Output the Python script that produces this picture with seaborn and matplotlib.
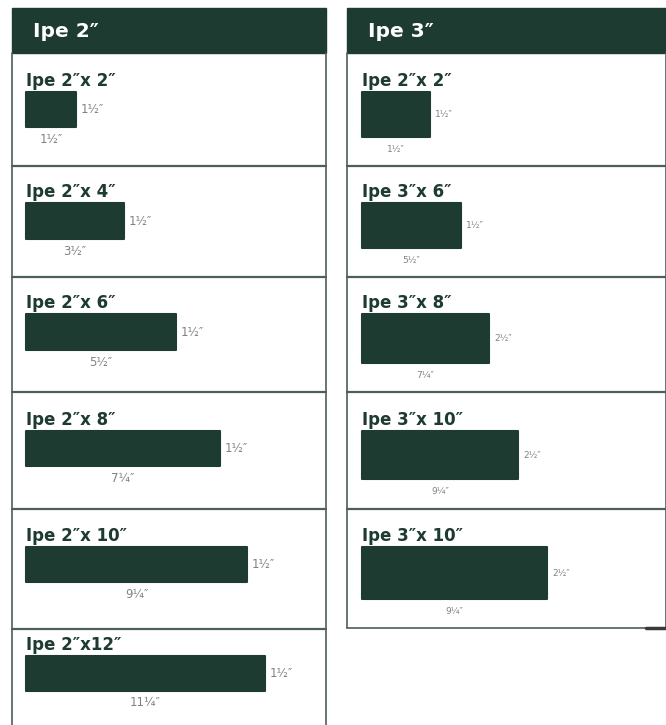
import matplotlib
matplotlib.use("Agg")
import matplotlib.pyplot as plt
import seaborn as sns

# данные: две колонки карточек с сечениями доски
left_header = "Ipe 2\u2033"
left_titles = ["Ipe 2\u2033x 2\u2033", "Ipe 2\u2033x 4\u2033", "Ipe 2\u2033x 6\u2033",
               "Ipe 2\u2033x 8\u2033", "Ipe 2\u2033x 10\u2033", "Ipe 2\u2033x12\u2033"]
left_thick = ["1\u00bd\u2033"] * 6
left_wlbl = ["1\u00bd\u2033", "3\u00bd\u2033", "5\u00bd\u2033", "7\u00bc\u2033", "9\u00bc\u2033", "11\u00bc\u2033"]
left_len = [50, 98, 150, 194, 221, 239]   # отрисованная длина профиля
left_hgt = [35, 36, 36, 35, 35, 35]       # отрисованная толщина профиля

right_header = "Ipe 3\u2033"
right_titles = ["Ipe 2\u2033x 2\u2033", "Ipe 3\u2033x 6\u2033", "Ipe 3\u2033x 8\u2033",
                "Ipe 3\u2033x 10\u2033", "Ipe 3\u2033x 10\u2033"]
right_thick = ["1\u00bd\u2033", "1\u00bd\u2033", "2\u00bd\u2033", "2\u00bd\u2033", "2\u00bd\u2033"]
right_wlbl = ["1\u00bd\u2033", "5\u00bd\u2033", "7\u00bc\u2033", "9\u00bc\u2033", "9\u00bc\u2033"]
right_len = [68, 99, 127, 156, 185]
right_hgt = [45, 45, 49, 48, 52]

# раскладка (в пикселях)
row_tops = [53, 166, 277, 392, 509, 629]
bar_tops = [92, 203, 314, 431, 547, 656]

GREEN = "#1d3b30"
LINE = "#4d5f58"
GRAY = "#7f8482"

sns.set_theme(style="white")
plt.rcParams["font.family"] = ["DejaVu Sans"]

fig = plt.figure(figsize=(6.66, 7.25), dpi=100)
ax = fig.add_axes([0, 0, 1, 1])
ax.set_xlim(0, 666)
ax.set_ylim(725, 0)
ax.axis("off")


def panel(x0, x1, bottom, header, titles, thick, wlbl, lens, hgts, small):
    # шапка
    ax.add_patch(plt.Rectangle((x0, 8), x1 - x0, 45, color=GREEN, zorder=2))
    ax.text(x0 + 21, 31, header, color="white", fontsize=14.5, fontweight="bold",
            va="center", ha="left", zorder=3)
    # рамки
    ax.plot([x0, x0], [53, bottom], color=LINE, lw=1.2)
    ax.plot([x1, x1], [53, bottom], color=LINE, lw=1.2)
    for t in row_tops[1:len(titles)]:
        ax.plot([x0, x1], [t, t], color=LINE, lw=1.6)
    if bottom < 700:
        ax.plot([x0, x1 - 20], [bottom, bottom], color=LINE, lw=1.2)
        ax.plot([x1 - 20, x1], [bottom, bottom], color="#3a3a3a", lw=2.5)

    bx = x0 + 14 if small == 0 else x0 + 15
    fs = 8.5 if small == 0 else 6.5
    ax.barh([bar_tops[i] for i in range(len(titles))], lens, height=hgts, left=bx,
            align="edge", color=GREEN, edgecolor=GREEN, linewidth=1.5,
            joinstyle="round", zorder=2)
    for i, title in enumerate(titles):
        top = bar_tops[i]
        ax.text(bx, top - 6, title, color=GREEN, fontsize=12, fontweight="bold",
                va="baseline", ha="left")
        ax.text(bx + lens[i] + 5, top + hgts[i] / 2, thick[i], color=GRAY,
                fontsize=fs, va="center", ha="left")
        ax.text(bx + lens[i] / 2, top + hgts[i] + 12, wlbl[i], color=GRAY,
                fontsize=fs, va="center", ha="center")


panel(12, 326, 725, left_header, left_titles, left_thick, left_wlbl, left_len, left_hgt, 0)
panel(347, 666, 628, right_header, right_titles, right_thick, right_wlbl, right_len, right_hgt, 1)

fig.savefig("out.png", dpi=100, facecolor="white")
